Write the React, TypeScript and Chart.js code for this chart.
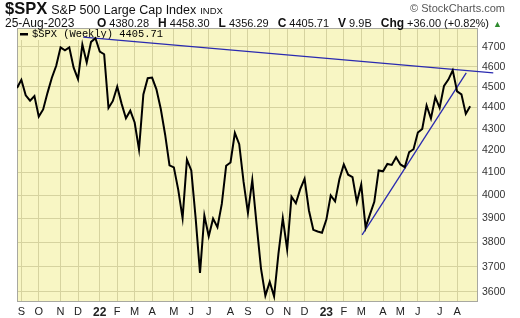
import React, { useEffect, useRef } from "react";
import { Chart, registerables } from "chart.js";
Chart.register(...registerables);

// Weekly closes, 27-Aug-2021 .. 25-Aug-2023 (index = week number)
const weeklyCloses = [
  4495, 4535, 4459, 4433, 4455, 4357, 4391, 4471, 4545, 4605,
  4698, 4683, 4698, 4595, 4538, 4712, 4621, 4726, 4745, 4677,
  4663, 4398, 4432, 4501, 4419, 4349, 4385, 4329, 4204, 4463,
  4543, 4546, 4488, 4393, 4272, 4132, 4123, 4024, 3901, 4158,
  4109, 3901, 3675, 3912, 3825, 3899, 3863, 3962, 4130, 4145,
  4280, 4228, 4058, 3924, 4067, 3873, 3693, 3586, 3640, 3583,
  3753, 3901, 3771, 3993, 3965, 4026, 4072, 3934, 3852, 3845,
  3840, 3895, 3999, 3973, 4071, 4136, 4090, 4079, 3970, 4046,
  3862, 3917, 3971, 4109, 4105, 4138, 4134, 4169, 4136, 4124,
  4192, 4205, 4282, 4299, 4410, 4348, 4450, 4399, 4505, 4536,
  4582, 4478, 4464, 4370, 4406,
];

const monthTickWeeks = [1, 5, 10, 14, 19, 23, 27, 31, 36, 40, 44, 49, 53, 58, 62, 66, 71, 75, 79, 84, 88, 92, 97, 101];
const monthTickLabels = ["S", "O", "N", "D", "22", "F", "M", "A", "M", "J", "J", "A", "S", "O", "N", "D", "23", "F", "M", "A", "M", "J", "J", "A"];
const yearLabels = ["22", "23"];
const priceTicks = [3600, 3700, 3800, 3900, 4000, 4100, 4200, 4300, 4400, 4500, 4600, 4700];

// Trendlines: [week, price]
const trendTopX = [15.2, 109.3];
const trendTopY = [4751, 4569];
const trendUpX = [79.2, 103.1];
const trendUpY = [3831, 4569];

const legendText = "$SPX (Weekly) 4405.71";

const PLOT_BG = "#f8f6c4";
const GRID = "#d6d39f";
const FONT = "'Liberation Sans', Arial, sans-serif";

export default function App() {
  const ref = useRef<HTMLCanvasElement | null>(null);

  useEffect(() => {
    document.body.style.margin = "0";
    const canvas = ref.current!;
    const bgPlugin = {
      id: "bg",
      beforeDraw(chart: any) {
        const { ctx, chartArea: a } = chart;
        ctx.save();
        ctx.fillStyle = "#ffffff";
        ctx.fillRect(0, 0, chart.width, chart.height);
        ctx.fillStyle = PLOT_BG;
        ctx.fillRect(a.left, a.top, a.right - a.left, a.bottom - a.top);
        ctx.restore();
      },
      beforeDatasetsDraw(chart: any) {
        const { ctx, chartArea: a } = chart;
        ctx.save();
        ctx.font = "10.4px 'Liberation Mono', monospace";
        const w = ctx.measureText(legendText).width;
        ctx.fillStyle = PLOT_BG;
        ctx.fillRect(a.left + 1, a.top + 1, w + 22, 11);
        ctx.fillStyle = "#000";
        ctx.fillRect(a.left + 3, a.top + 5, 8, 2.5);
        ctx.textBaseline = "middle";
        ctx.fillText(legendText, a.left + 15, a.top + 6.5);
        ctx.strokeStyle = "#a8a8a0";
        ctx.lineWidth = 1;
        ctx.strokeRect(a.left + 0.5, a.top + 0.5, a.right - a.left - 1, a.bottom - a.top - 1);
        ctx.restore();
      },
    };

    const chart = new Chart(canvas, {
      type: "line",
      data: {
        datasets: [
          {
            data: weeklyCloses.map((v, i) => ({ x: i, y: v })),
            borderColor: "#000000",
            borderWidth: 2,
            pointRadius: 0,
            tension: 0,
          },
          {
            data: trendTopX.map((x, i) => ({ x, y: trendTopY[i] })),
            borderColor: "#2a2ab0",
            borderWidth: 1.3,
            pointRadius: 0,
            clip: false as any,
          },
          {
            data: trendUpX.map((x, i) => ({ x, y: trendUpY[i] })),
            borderColor: "#2a2ab0",
            borderWidth: 1.3,
            pointRadius: 0,
            clip: false as any,
          },
        ],
      },
      options: {
        animation: false,
        responsive: false,
        maintainAspectRatio: false,
        layout: { padding: { left: 17, top: 28, right: 0, bottom: 0 } },
        scales: {
          x: {
            type: "linear",
            min: 0,
            max: 105.8,
            afterBuildTicks: (s: any) => {
              s.ticks = monthTickWeeks.map((v) => ({ value: v }));
            },
            afterFit: (s: any) => {
              s.height = 16;
            },
            ticks: {
              autoSkip: false,
              maxRotation: 0,
              padding: 3,
              color: "#222",
              callback: (_v: any, i: number) => monthTickLabels[i],
              font: (c: any) =>
                yearLabels.includes(monthTickLabels[c.index])
                  ? { family: FONT, size: 12, weight: "bold" }
                  : { family: FONT, size: 11 },
            },
            grid: { color: GRID, drawTicks: false },
            border: { display: false },
          },
          y: {
            type: "logarithmic",
            position: "right",
            min: 3561,
            max: 4798,
            afterBuildTicks: (s: any) => {
              s.ticks = priceTicks.map((v) => ({ value: v }));
            },
            afterFit: (s: any) => {
              s.width = 42;
            },
            ticks: {
              autoSkip: false,
              padding: 4,
              color: "#333",
              font: { family: FONT, size: 10.5 },
              callback: (v: any) => String(v),
            },
            grid: { color: GRID, drawTicks: false },
            border: { display: false },
          },
        },
        plugins: { legend: { display: false }, tooltip: { enabled: false } },
      },
      plugins: [bgPlugin],
    });
    return () => chart.destroy();
  }, []);

  const bold = { fontWeight: "bold" as const, fontSize: 12 };
  const num = { fontSize: 11, marginLeft: 3, marginRight: 9 };

  return (
    <div style={{ position: "relative", width: 520, height: 318, background: "#fff", fontFamily: FONT, color: "#111" }}>
      <canvas ref={ref} width={520} height={318} style={{ position: "absolute", left: 0, top: 0, width: 520, height: 318 }} />
      <div style={{ position: "absolute", left: 5, top: 0, height: 16, lineHeight: "16px", whiteSpace: "nowrap" }}>
        <span style={{ fontWeight: "bold", fontSize: 16.5 }}>$SPX</span>
        <span style={{ fontSize: 12.5, marginLeft: 4 }}>S&amp;P 500 Large Cap Index</span>
        <span style={{ fontSize: 9.5, marginLeft: 4 }}>INDX</span>
      </div>
      <div style={{ position: "absolute", right: 15, top: 0, height: 16, lineHeight: "16px", fontSize: 11, color: "#555", whiteSpace: "nowrap" }}>
        © StockCharts.com
      </div>
      <div style={{ position: "absolute", left: 5, top: 14, height: 15, lineHeight: "15px", whiteSpace: "nowrap" }}>
        <span style={{ fontSize: 12 }}>25-Aug-2023</span>
      </div>
      <div style={{ position: "absolute", left: 97, top: 14, height: 15, lineHeight: "15px", whiteSpace: "nowrap" }}>
        <span style={bold}>O</span><span style={num}>4380.28</span>
        <span style={bold}>H</span><span style={num}>4458.30</span>
        <span style={bold}>L</span><span style={num}>4356.29</span>
        <span style={bold}>C</span><span style={num}>4405.71</span>
        <span style={bold}>V</span><span style={num}>9.9B</span>
        <span style={bold}>Chg</span><span style={{ fontSize: 11, marginLeft: 3 }}>+36.00 (+0.82%)</span>
        <span style={{ fontSize: 9, marginLeft: 4, color: "#2e8b2e" }}>▲</span>
      </div>
    </div>
  );
}
